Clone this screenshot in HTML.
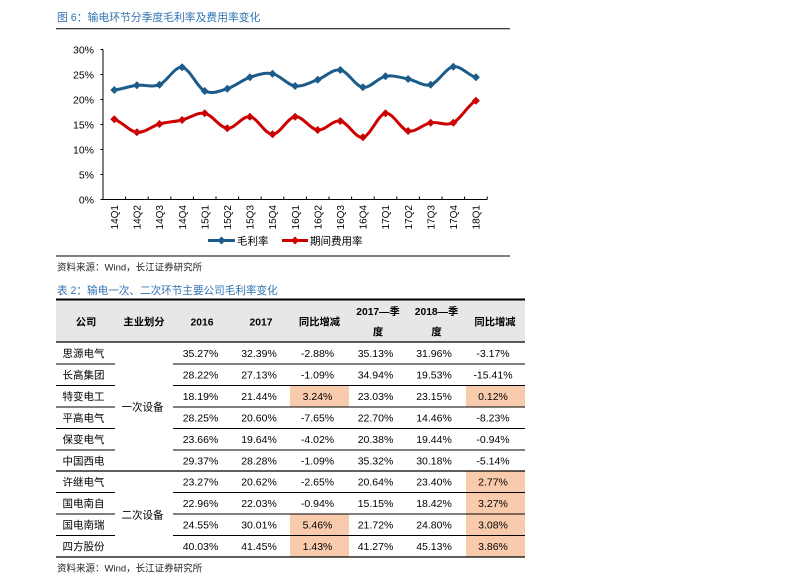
<!DOCTYPE html>
<html><head><meta charset="utf-8">
<style>
html,body{margin:0;padding:0;background:#fff;}
svg{display:block;}
text{font-family:"Liberation Sans","Noto Sans CJK SC",sans-serif;}
</style></head>
<body>
<svg width="793" height="578" viewBox="0 0 793 578" xmlns="http://www.w3.org/2000/svg">
<defs>
<marker id="mb" markerUnits="userSpaceOnUse" markerWidth="10" markerHeight="10" refX="5" refY="5" viewBox="0 0 10 10"><path d="M5,1 L9,5 L5,9 L1,5Z" fill="#1B5C8A"/></marker>
<marker id="mr" markerUnits="userSpaceOnUse" markerWidth="10" markerHeight="10" refX="5" refY="5" viewBox="0 0 10 10"><path d="M5,1 L9,5 L5,9 L1,5Z" fill="#CC0000"/></marker>
</defs>

<!-- Figure title -->
<text x="57" y="21" font-size="10.8" fill="#2F73B0">图 6：输电环节分季度毛利率及费用率变化</text>
<line x1="56" y1="28.7" x2="510" y2="28.7" stroke="#000" stroke-width="1"/>

<!-- Y axis -->
<line x1="103" y1="49.5" x2="103" y2="199.5" stroke="#000" stroke-width="1"/>
<path d="M100.5,49.5H103M100.5,74.5H103M100.5,99.5H103M100.5,124.5H103M100.5,149.5H103M100.5,174.5H103M100.5,199.5H103" stroke="#000" stroke-width="1"/>
<g font-size="10.5" fill="#000" text-anchor="end">
<text x="94" y="53.3">30%</text>
<text x="94" y="78.3">25%</text>
<text x="94" y="103.3">20%</text>
<text x="94" y="128.3">15%</text>
<text x="94" y="153.3">10%</text>
<text x="94" y="178.3">5%</text>
<text x="94" y="203.3">0%</text>
</g>

<!-- X axis -->
<line x1="103" y1="199.5" x2="487.2" y2="199.5" stroke="#000" stroke-width="1"/>
<path d="M125.6,196.5V199.5M148.2,196.5V199.5M170.8,196.5V199.5M193.4,196.5V199.5M216,196.5V199.5M238.6,196.5V199.5M261.2,196.5V199.5M283.8,196.5V199.5M306.4,196.5V199.5M329,196.5V199.5M351.6,196.5V199.5M374.2,196.5V199.5M396.8,196.5V199.5M419.4,196.5V199.5M442,196.5V199.5M464.6,196.5V199.5M487.2,196.5V199.5" stroke="#000" stroke-width="1"/>
<g font-size="10" fill="#000" text-anchor="end">
<text transform="translate(118,205) rotate(-90)">14Q1</text>
<text transform="translate(140.6,205) rotate(-90)">14Q2</text>
<text transform="translate(163.2,205) rotate(-90)">14Q3</text>
<text transform="translate(185.8,205) rotate(-90)">14Q4</text>
<text transform="translate(208.4,205) rotate(-90)">15Q1</text>
<text transform="translate(231,205) rotate(-90)">15Q2</text>
<text transform="translate(253.6,205) rotate(-90)">15Q3</text>
<text transform="translate(276.2,205) rotate(-90)">15Q4</text>
<text transform="translate(298.8,205) rotate(-90)">16Q1</text>
<text transform="translate(321.4,205) rotate(-90)">16Q2</text>
<text transform="translate(344,205) rotate(-90)">16Q3</text>
<text transform="translate(366.6,205) rotate(-90)">16Q4</text>
<text transform="translate(389.2,205) rotate(-90)">17Q1</text>
<text transform="translate(411.8,205) rotate(-90)">17Q2</text>
<text transform="translate(434.4,205) rotate(-90)">17Q3</text>
<text transform="translate(457,205) rotate(-90)">17Q4</text>
<text transform="translate(479.6,205) rotate(-90)">18Q1</text>
</g>

<!-- Series: 毛利率 -->
<path fill="none" stroke="#1B5C8A" stroke-width="3" stroke-linejoin="round" marker-start="url(#mb)" marker-mid="url(#mb)" marker-end="url(#mb)"
d="M114.3,90 C121.83,89.22 129.37,86.18 136.9,85.3 C144.43,84.42 151.97,87.7 159.5,84.7 C167.03,81.7 174.57,66.25 182.1,67.3 C189.63,68.35 197.17,87.43 204.7,91 C212.23,94.57 219.77,90.98 227.3,88.7 C234.83,86.42 242.37,79.8 249.9,77.3 C257.43,74.8 264.97,72.25 272.5,73.7 C280.03,75.15 287.57,85 295.1,86 C302.63,87 310.17,82.37 317.7,79.7 C325.23,77.03 332.77,68.73 340.3,70 C347.83,71.27 355.37,86.25 362.9,87.3 C370.43,88.35 377.97,77.68 385.5,76.3 C393.03,74.92 400.57,77.6 408.1,79 C415.63,80.4 423.17,86.75 430.7,84.7 C438.23,82.65 445.77,67.93 453.3,66.7 C460.83,65.47 468.37,75.53 475.9,77.3"/>

<!-- Series: 期间费用率 -->
<path fill="none" stroke="#CC0000" stroke-width="3" stroke-linejoin="round" marker-start="url(#mr)" marker-mid="url(#mr)" marker-end="url(#mr)"
d="M114.3,119.3 C121.83,121.47 129.37,131.52 136.9,132.3 C144.43,133.08 151.97,126.05 159.5,124 C167.03,121.95 174.57,121.78 182.1,120 C189.63,118.22 197.17,111.92 204.7,113.3 C212.23,114.68 219.77,127.73 227.3,128.3 C234.83,128.87 242.37,115.7 249.9,116.7 C257.43,117.7 264.97,134.3 272.5,134.3 C280.03,134.3 287.57,117.42 295.1,116.7 C302.63,115.98 310.17,129.28 317.7,130 C325.23,130.72 332.77,119.78 340.3,121 C347.83,122.22 355.37,138.58 362.9,137.3 C370.43,136.02 377.97,114.35 385.5,113.3 C393.03,112.25 400.57,129.43 408.1,131 C415.63,132.57 423.17,124.08 430.7,122.7 C438.23,121.32 445.77,126.37 453.3,122.7 C460.83,119.03 468.37,104.37 475.9,100.7"/>

<!-- Legend -->
<line x1="208" y1="240.5" x2="235" y2="240.5" stroke="#1B5C8A" stroke-width="3"/>
<path d="M221.5,236.5 L225.5,240.5 L221.5,244.5 L217.5,240.5Z" fill="#1B5C8A"/>
<text x="237" y="244.5" font-size="10.5" fill="#000">毛利率</text>
<line x1="282" y1="240.5" x2="308" y2="240.5" stroke="#CC0000" stroke-width="3"/>
<path d="M295,236.5 L299,240.5 L295,244.5 L291,240.5Z" fill="#CC0000"/>
<text x="310" y="244.5" font-size="10.5" fill="#000">期间费用率</text>

<line x1="56" y1="256" x2="510" y2="256" stroke="#000" stroke-width="1"/>
<text x="57" y="270.5" font-size="9.5" fill="#222">资料来源：Wind，长江证券研究所</text>

<!-- Table title -->
<text x="57" y="294" font-size="10.6" fill="#2F73B0">表 2：输电一次、二次环节主要公司毛利率变化</text>

<!-- Table header background -->
<rect x="56" y="300" width="469" height="42" fill="#E7E7E7"/>

<!-- Highlighted cells -->
<g fill="#F8CBAD">
<rect x="290" y="385.5" width="59" height="21.5"/>
<rect x="466" y="385.5" width="59" height="21.5"/>
<rect x="466" y="471" width="59" height="86"/>
<rect x="290" y="514" width="59" height="43"/>
</g>

<!-- Table lines -->
<line x1="56" y1="299.5" x2="525" y2="299.5" stroke="#000" stroke-width="2"/>
<line x1="56" y1="342" x2="525" y2="342" stroke="#000" stroke-width="1.3"/>
<g stroke="#000" stroke-width="1">
<path d="M56,364H115M173,364H525"/>
<path d="M56,385.5H115M173,385.5H525"/>
<path d="M56,407H115M173,407H525"/>
<path d="M56,428.5H115M173,428.5H525"/>
<path d="M56,450H115M173,450H525"/>
<path d="M56,492.5H115M173,492.5H525"/>
<path d="M56,514H115M173,514H525"/>
<path d="M56,535.5H115M173,535.5H525"/>
</g>
<line x1="56" y1="471" x2="525" y2="471" stroke="#000" stroke-width="1.3"/>
<line x1="56" y1="557" x2="525" y2="557" stroke="#000" stroke-width="1.3"/>

<!-- Header text -->
<g font-size="10.3" font-weight="bold" fill="#000" text-anchor="middle">
<text x="86" y="325.5">公司</text>
<text x="144" y="325.5">主业划分</text>
<text x="202" y="325.5">2016</text>
<text x="261" y="325.5">2017</text>
<text x="319.5" y="325.5">同比增减</text>
<text x="378" y="315">2017—季</text>
<text x="378" y="335.5">度</text>
<text x="436.5" y="315">2018—季</text>
<text x="436.5" y="335.5">度</text>
<text x="495" y="325.5">同比增减</text>
</g>

<!-- Group labels -->
<g font-size="10.5" fill="#000" text-anchor="middle">
<text x="142.5" y="410.5">一次设备</text>
<text x="142.5" y="518.5">二次设备</text>
</g>

<!-- Company names -->
<g font-size="10.5" fill="#000">
<text x="62.5" y="357">思源电气</text>
<text x="62.5" y="378.7">长高集团</text>
<text x="62.5" y="400.2">特变电工</text>
<text x="62.5" y="421.7">平高电气</text>
<text x="62.5" y="443.2">保变电气</text>
<text x="62.5" y="464.5">中国西电</text>
<text x="62.5" y="485.7">许继电气</text>
<text x="62.5" y="507.2">国电南自</text>
<text x="62.5" y="528.7">国电南瑞</text>
<text x="62.5" y="550.2">四方股份</text>
</g>

<!-- Numbers -->
<g font-size="10.5" fill="#000" text-anchor="middle">
<text x="200.5" y="356.8">35.27%</text><text x="259" y="356.8">32.39%</text><text x="317.5" y="356.8">-2.88%</text><text x="375.5" y="356.8">35.13%</text><text x="434" y="356.8">31.96%</text><text x="493" y="356.8">-3.17%</text>
<text x="200.5" y="378.5">28.22%</text><text x="259" y="378.5">27.13%</text><text x="317.5" y="378.5">-1.09%</text><text x="375.5" y="378.5">34.94%</text><text x="434" y="378.5">19.53%</text><text x="493" y="378.5">-15.41%</text>
<text x="200.5" y="400">18.19%</text><text x="259" y="400">21.44%</text><text x="317.5" y="400">3.24%</text><text x="375.5" y="400">23.03%</text><text x="434" y="400">23.15%</text><text x="493" y="400">0.12%</text>
<text x="200.5" y="421.5">28.25%</text><text x="259" y="421.5">20.60%</text><text x="317.5" y="421.5">-7.65%</text><text x="375.5" y="421.5">22.70%</text><text x="434" y="421.5">14.46%</text><text x="493" y="421.5">-8.23%</text>
<text x="200.5" y="443">23.66%</text><text x="259" y="443">19.64%</text><text x="317.5" y="443">-4.02%</text><text x="375.5" y="443">20.38%</text><text x="434" y="443">19.44%</text><text x="493" y="443">-0.94%</text>
<text x="200.5" y="464.3">29.37%</text><text x="259" y="464.3">28.28%</text><text x="317.5" y="464.3">-1.09%</text><text x="375.5" y="464.3">35.32%</text><text x="434" y="464.3">30.18%</text><text x="493" y="464.3">-5.14%</text>
<text x="200.5" y="485.5">23.27%</text><text x="259" y="485.5">20.62%</text><text x="317.5" y="485.5">-2.65%</text><text x="375.5" y="485.5">20.64%</text><text x="434" y="485.5">23.40%</text><text x="493" y="485.5">2.77%</text>
<text x="200.5" y="507">22.96%</text><text x="259" y="507">22.03%</text><text x="317.5" y="507">-0.94%</text><text x="375.5" y="507">15.15%</text><text x="434" y="507">18.42%</text><text x="493" y="507">3.27%</text>
<text x="200.5" y="528.5">24.55%</text><text x="259" y="528.5">30.01%</text><text x="317.5" y="528.5">5.46%</text><text x="375.5" y="528.5">21.72%</text><text x="434" y="528.5">24.80%</text><text x="493" y="528.5">3.08%</text>
<text x="200.5" y="550">40.03%</text><text x="259" y="550">41.45%</text><text x="317.5" y="550">1.43%</text><text x="375.5" y="550">41.27%</text><text x="434" y="550">45.13%</text><text x="493" y="550">3.86%</text>
</g>

<text x="57" y="571.5" font-size="9.5" fill="#222">资料来源：Wind，长江证券研究所</text>
</svg>
</body></html>
